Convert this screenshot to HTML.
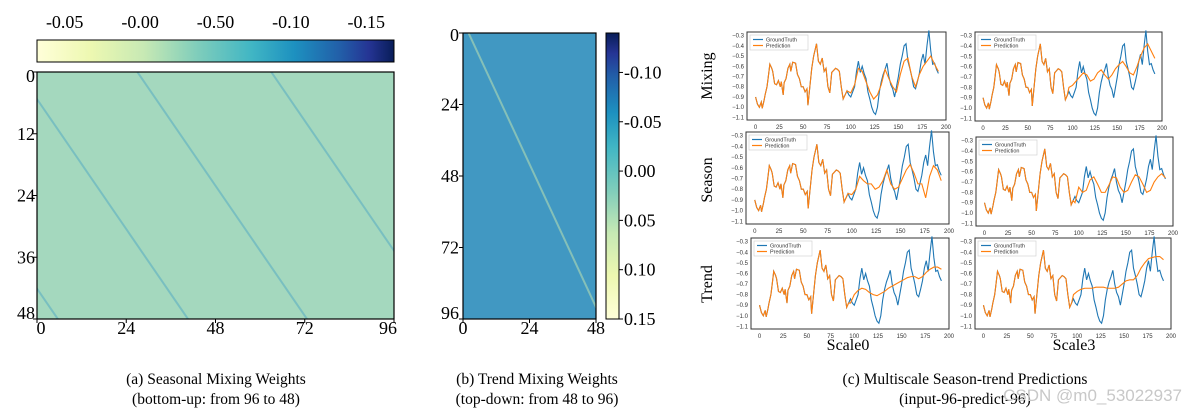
<!DOCTYPE html>
<html><head><meta charset="utf-8">
<style>
body{margin:0;background:#fff;width:1188px;height:415px;overflow:hidden;font-family:"Liberation Serif",serif;}
svg{position:absolute;left:0;top:0}
</style></head>
<body>
<svg id="s" width="1188" height="415" xmlns="http://www.w3.org/2000/svg">
<defs>
<linearGradient id="ylgnbuH" x1="0" x2="1" y1="0" y2="0">
<stop offset="0" stop-color="#ffffd9"/><stop offset="0.15" stop-color="#edf8b1"/><stop offset="0.3" stop-color="#c7e9b4"/><stop offset="0.45" stop-color="#7fcdbb"/><stop offset="0.6" stop-color="#41b6c4"/><stop offset="0.72" stop-color="#1d91c0"/><stop offset="0.85" stop-color="#225ea8"/><stop offset="0.93" stop-color="#253494"/><stop offset="1" stop-color="#081d58"/>
</linearGradient>
<linearGradient id="ylgnbuV" x1="0" x2="0" y1="1" y2="0">
<stop offset="0" stop-color="#ffffd9"/><stop offset="0.15" stop-color="#edf8b1"/><stop offset="0.3" stop-color="#c7e9b4"/><stop offset="0.45" stop-color="#7fcdbb"/><stop offset="0.6" stop-color="#41b6c4"/><stop offset="0.72" stop-color="#1d91c0"/><stop offset="0.85" stop-color="#225ea8"/><stop offset="0.93" stop-color="#253494"/><stop offset="1" stop-color="#081d58"/>
</linearGradient>
</defs>
<g id="root"></g>
</svg>
<script>
// ---- data ----
const seasonalCbarTicks=["-0.05","-0.00","-0.50","-0.10","-0.15"];
const seasonalRowTicks=[0,12,24,36,48];
const seasonalColTicks=[0,24,48,72,96];
const seasonalStripeOffsets=[-40,-5,27,63,98]; // diagonal stripe start columns (cells)
const trendRowTicks=[0,24,48,72,96];
const trendColTicks=[0,24,48];
const trendCbarTicks=["-0.10","-0.05","0.00","0.05","0.10","0.15"];
const trendCbarValues=[-0.10,-0.05,0.00,0.05,0.10,0.15];
const trendStripeOffsets=[2];
const tSteps=[0,2,4,6,7,9,10,12,13,15,17,18,20,22,24,26,27,29,30,32,34,36,37,39,42,44,46,48,50,52,54,55,57,59,61,63,64,66,68,70,72,74,76,78,80,82,84,86,88,90,92,94,96,98,100,102,104,106,108,110,112,114,116,118,120,122,124,126,128,130,132,134,136,138,140,142,144,146,148,150,152,154,156,158,160,162,164,166,168,170,172,174,176,178,180,182,184,186,188,190,192];
const groundTruth=[-0.90,-0.97,-1.00,-0.95,-1.01,-0.93,-0.88,-0.80,-0.73,-0.58,-0.62,-0.65,-0.77,-0.78,-0.74,-0.80,-0.75,-0.88,-0.76,-0.72,-0.62,-0.58,-0.65,-0.56,-0.57,-0.68,-0.72,-0.80,-0.80,-0.85,-0.82,-0.98,-0.80,-0.62,-0.50,-0.42,-0.38,-0.55,-0.58,-0.52,-0.65,-0.62,-0.80,-0.86,-0.66,-0.64,-0.62,-0.63,-0.65,-0.80,-0.92,-0.88,-0.84,-0.88,-0.90,-0.85,-0.80,-0.65,-0.55,-0.66,-0.60,-0.67,-0.72,-0.85,-0.92,-1.00,-1.05,-1.07,-1.00,-0.85,-0.75,-0.68,-0.63,-0.57,-0.70,-0.78,-0.82,-0.90,-0.80,-0.70,-0.58,-0.50,-0.40,-0.38,-0.55,-0.62,-0.70,-0.80,-0.82,-0.75,-0.67,-0.55,-0.48,-0.58,-0.40,-0.25,-0.45,-0.58,-0.57,-0.63,-0.67];
const predSteps=[96,100,104,108,112,116,120,124,128,132,136,140,144,148,152,156,160,164,168,172,176,180,184,188,192];
const predMixing0=[-0.84,-0.86,-0.78,-0.62,-0.65,-0.75,-0.85,-0.92,-0.88,-0.78,-0.63,-0.72,-0.80,-0.85,-0.68,-0.55,-0.52,-0.70,-0.80,-0.68,-0.60,-0.55,-0.50,-0.58,-0.65];
const predMixing3=[-0.80,-0.78,-0.74,-0.70,-0.66,-0.68,-0.74,-0.72,-0.66,-0.63,-0.68,-0.72,-0.68,-0.62,-0.58,-0.55,-0.60,-0.66,-0.68,-0.60,-0.50,-0.42,-0.38,-0.45,-0.52];
const predSeason0=[-0.84,-0.85,-0.80,-0.68,-0.72,-0.75,-0.75,-0.80,-0.78,-0.72,-0.62,-0.75,-0.80,-0.78,-0.70,-0.62,-0.57,-0.65,-0.75,-0.75,-0.88,-0.68,-0.58,-0.62,-0.72];
const predSeason3=[-0.90,-0.75,-0.80,-0.78,-0.68,-0.65,-0.72,-0.80,-0.80,-0.73,-0.65,-0.66,-0.75,-0.80,-0.78,-0.70,-0.63,-0.65,-0.72,-0.80,-0.78,-0.70,-0.65,-0.62,-0.66];
const predTrend0=[-0.88,-0.80,-0.76,-0.74,-0.75,-0.78,-0.80,-0.81,-0.79,-0.77,-0.74,-0.72,-0.70,-0.68,-0.66,-0.64,-0.63,-0.63,-0.65,-0.63,-0.59,-0.56,-0.54,-0.54,-0.56];
const predTrend3=[-0.80,-0.77,-0.75,-0.74,-0.74,-0.74,-0.73,-0.73,-0.73,-0.74,-0.74,-0.74,-0.73,-0.70,-0.67,-0.66,-0.66,-0.62,-0.55,-0.50,-0.46,-0.45,-0.44,-0.44,-0.47];
const yTickVals=[-0.3,-0.4,-0.5,-0.6,-0.7,-0.8,-0.9,-1.0,-1.1];
const xTickVals=[0,25,50,75,100,125,150,175,200];

const NS="http://www.w3.org/2000/svg";
const root=document.getElementById('root');
function mk(tag,attrs,parent,text){const e=document.createElementNS(NS,tag);for(const k in attrs)e.setAttribute(k,attrs[k]);if(text!==undefined)e.textContent=text;(parent||root).appendChild(e);return e;}

// ---- (a) seasonal heatmap ----
{
 const X0=37,X1=394,Y0=72,Y1=319;
 const cx=c=>X0+(X1-X0)*c/96, cy=r=>Y0+(Y1-Y0)*r/48;
 const cb=mk('rect',{x:37,y:40,width:357,height:22,fill:'url(#ylgnbuH)',stroke:'#000','stroke-width':1});
 
 seasonalCbarTicks.forEach((t,i)=>{const x=X0+(X1-X0)*(i+0.5)/5+ (i-2)*4;
  const e=mk('text',{x:x,y:28,'font-size':18,'text-anchor':'middle'},null,t);
  });
 const hm=mk('rect',{x:X0,y:Y0,width:X1-X0,height:Y1-Y0,fill:'#a4d8be'});
 
 const cp=mk('clipPath',{id:'cpa'});mk('rect',{x:X0,y:Y0,width:X1-X0,height:Y1-Y0},cp);
 seasonalStripeOffsets.forEach(o=>{
  const l=mk('line',{x1:cx(o),y1:cy(0),x2:cx(o+48*0.95),y2:cy(48),stroke:'#3a9cc4','stroke-width':2,opacity:0.4,'clip-path':'url(#cpa)'});
  
 });
 mk('rect',{x:X0,y:Y0,width:X1-X0,height:Y1-Y0,fill:'none',stroke:'#000','stroke-width':1.2});
 seasonalRowTicks.forEach(r=>{mk('line',{x1:X0-4,x2:X0,y1:cy(r),y2:cy(r),stroke:'#000'});
  const e=mk('text',{x:X0-2,y:cy(r)+(r===0?10:r===48?0:6),'font-size':18,'text-anchor':'end'},null,r);
  });
 seasonalColTicks.forEach(c=>{mk('line',{x1:cx(c),x2:cx(c),y1:Y1,y2:Y1+4,stroke:'#000'});
  const e=mk('text',{x:cx(c)+(c===0?4:c===96?-6:0),y:Y1+15,'font-size':18,'text-anchor':'middle'},null,c);
  });
}
// ---- (b) trend heatmap ----
{
 const X0=463,X1=596,Y0=33,Y1=319;
 const cx=c=>X0+(X1-X0)*c/48, cy=r=>Y0+(Y1-Y0)*r/96;
 const hm=mk('rect',{x:X0,y:Y0,width:X1-X0,height:Y1-Y0,fill:'#4198c2'});
 
 const cp=mk('clipPath',{id:'cpb'});mk('rect',{x:X0,y:Y0,width:X1-X0,height:Y1-Y0},cp);
 trendStripeOffsets.forEach(o=>{
  const l=mk('line',{x1:cx(o),y1:cy(0),x2:cx(o+48),y2:cy(96),stroke:'#c8e8b0','stroke-width':2,opacity:0.5,'clip-path':'url(#cpb)'});
  });
 mk('rect',{x:X0,y:Y0,width:X1-X0,height:Y1-Y0,fill:'none',stroke:'#000','stroke-width':1.2});
 trendRowTicks.forEach(r=>{mk('line',{x1:X0-4,x2:X0,y1:cy(r),y2:cy(r),stroke:'#000'});
  const e=mk('text',{x:X0-4,y:cy(r)+(r===0?8:r===96?0:6),'font-size':18,'text-anchor':'end'},null,r);
  });
 trendColTicks.forEach(c=>{mk('line',{x1:cx(c),x2:cx(c),y1:Y1,y2:Y1+4,stroke:'#000'});
  const e=mk('text',{x:cx(c),y:Y1+15,'font-size':18,'text-anchor':'middle'},null,c);
  });
 const CB0=33,CB1=319;
 const cb=mk('rect',{x:606,y:CB0,width:13,height:CB1-CB0,fill:'url(#ylgnbuV)',stroke:'#000','stroke-width':1});
 
 const vy=v=>CB0+(CB1-CB0)*(v+0.14)/(0.29);
 trendCbarValues.forEach((v,i)=>{const y=vy(v);mk('line',{x1:619,x2:623,y1:y,y2:y,stroke:'#000'});
  const e=mk('text',{x:624,y:y+6,'font-size':18},null,trendCbarTicks[i]);
  });
}
// ---- (c) line plots ----
function tailPred(tail){const xs=[],ys=[];tSteps.forEach((t,i)=>{if(t<96){xs.push(t);ys.push(groundTruth[i]);}});return [xs.concat(predSteps),ys.concat(tail)];}
const panels=[
 {name:'mixing-scale0',x0:747,x1:946,y0:32,y1:120,pred:predMixing0},
 {name:'mixing-scale3',x0:975,x1:1162,y0:32,y1:121,pred:predMixing3},
 {name:'season-scale0',x0:746,x1:949,y0:132,y1:224,pred:predSeason0},
 {name:'season-scale3',x0:976,x1:1173,y0:137,y1:226,pred:predSeason3},
 {name:'trend-scale0',x0:751,x1:949,y0:238,y1:329,pred:predTrend0},
 {name:'trend-scale3',x0:975,x1:1171,y0:238,y1:329,pred:predTrend3}];
panels.forEach(p=>{
 const g=mk('g',{});
 const sx=v=>p.x0+(p.x1-p.x0)*(v+9)/(209), sy=v=>p.y0+(p.y1-p.y0)*(-0.265-v)/(0.86);
 mk('rect',{x:p.x0,y:p.y0,width:p.x1-p.x0,height:p.y1-p.y0,fill:'#fff',stroke:'#333','stroke-width':1},g);
 yTickVals.forEach(v=>{const e=mk('text',{x:p.x0-3,y:sy(v)+2,'font-size':6,'text-anchor':'end',fill:'#333','font-family':'Liberation Sans'},g,v.toFixed(1).replace('-','\u2212'));
  });
 xTickVals.forEach(v=>{const e=mk('text',{x:sx(v),y:p.y1+9,'font-size':6,'text-anchor':'middle',fill:'#333','font-family':'Liberation Sans'},g,v);
  });
 const gt=mk('polyline',{points:tSteps.map((t,i)=>sx(t)+','+sy(groundTruth[i])).join(' '),fill:'none',stroke:'#1f77b4','stroke-width':1.1},g);
 
 const [px,py]=tailPred(p.pred);
 const pl=mk('polyline',{points:px.map((t,i)=>sx(t)+','+sy(py[i])).join(' '),fill:'none',stroke:'#ff7f0e','stroke-width':1.1},g);
 
 const lg=mk('g',{},g);
 const lx=p.x0+3,ly=p.y0+3;
 mk('rect',{x:lx,y:ly,width:58,height:15,fill:'#fff',stroke:'#ccc','stroke-width':0.6},lg);
 mk('line',{x1:lx+3,x2:lx+13,y1:ly+4.5,y2:ly+4.5,stroke:'#1f77b4','stroke-width':1.2},lg);
 mk('line',{x1:lx+3,x2:lx+13,y1:ly+10.5,y2:ly+10.5,stroke:'#ff7f0e','stroke-width':1.2},lg);
 mk('text',{x:lx+16,y:ly+6.5,'font-size':5.5,'font-family':'Liberation Sans',fill:'#333'},lg,'GroundTruth');
 mk('text',{x:lx+16,y:ly+12.5,'font-size':5.5,'font-family':'Liberation Sans',fill:'#333'},lg,'Prediction');
});
[['Mixing',76],['Season',180],['Trend',284]].forEach(([t,y])=>{
 const e=mk('text',{x:0,y:0,'font-size':16,'text-anchor':'middle',transform:`translate(712,${y}) rotate(-90)`},null,t);
 });
[['Scale0',848],['Scale3',1074]].forEach(([t,x])=>{
 const e=mk('text',{x:x,y:350,'font-size':16,'text-anchor':'middle'},null,t);
 });
// captions
[[216,'(a) Seasonal Mixing Weights','(bottom-up: from 96 to 48)','caption-a'],
 [537,'(b) Trend Mixing Weights','(top-down: from 48 to 96)','caption-b'],
 [965,'(c) Multiscale Season-trend Predictions','(input-96-predict-96)','caption-c']].forEach(([x,a,b,n])=>{
 const e1=mk('text',{x:x,y:384,'font-size':15.5,'text-anchor':'middle'},null,a);
 
 const e2=mk('text',{x:x,y:404,'font-size':15.5,'text-anchor':'middle'},null,b);
 });
const wm=mk('text',{x:1182,y:401,'font-size':17,'text-anchor':'end',fill:'#c8c8c8','font-family':'Liberation Sans'},null,'CSDN @m0_53022937');

</script>
</body></html>
